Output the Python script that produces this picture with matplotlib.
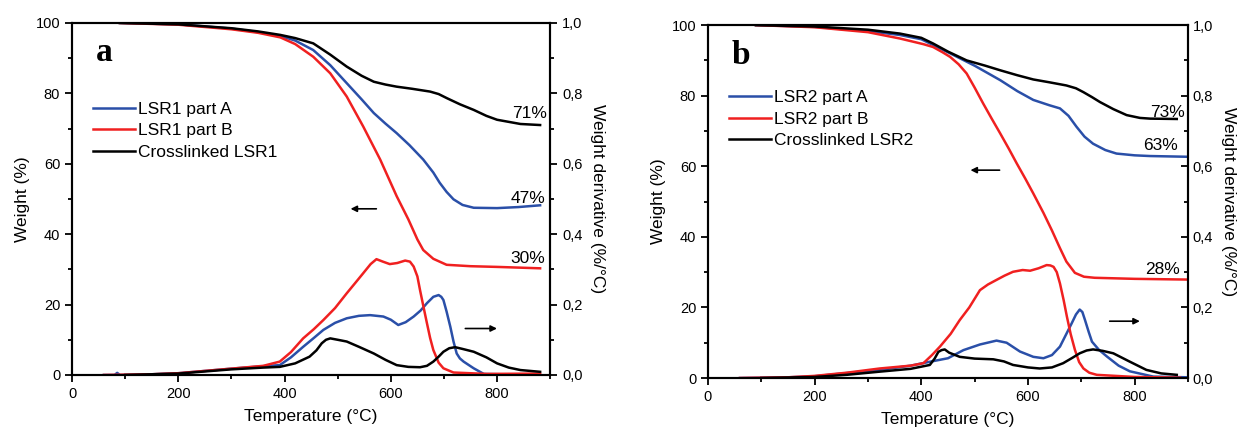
import matplotlib.pyplot as plt
from matplotlib.ticker import MultipleLocator, FuncFormatter

plt.rcParams['font.family'] = ['Liberation Sans', 'DejaVu Sans']

# ---- LSR1 (panel a) ----
# TGA weight curves (%)
a_red_T = [90, 200, 300, 350, 392, 420, 454, 486, 517, 548, 580, 611, 633, 650, 661,
           680, 705, 750, 800, 881]
a_red_w = [100, 99.5, 98.2, 97.2, 95.9, 94, 90.4, 85.7, 79.1, 70.6, 61.2, 50.8, 44.2,
           38.5, 35.5, 33, 31.3, 30.9, 30.7, 30.3]

a_blue_T = [90, 200, 300, 350, 392, 420, 454, 486, 517, 545, 568, 590, 611, 635, 661,
            680, 692, 705, 718, 735, 756, 800, 840, 881]
a_blue_w = [100, 99.6, 98.4, 97.4, 96.3, 95, 92.3, 88, 82.9, 78.3, 74.4, 71.4, 68.7,
            65.3, 61.2, 57.5, 54.6, 52, 49.9, 48.3, 47.5, 47.4, 47.7, 48.2]

a_black_T = [90, 200, 300, 350, 392, 420, 454, 486, 517, 545, 568, 590, 611, 640, 674,
             690, 706, 730, 756, 780, 800, 844, 881]
a_black_w = [100, 99.6, 98.5, 97.6, 96.6, 95.7, 94.2, 91, 87.6, 85, 83.3, 82.5, 81.9,
             81.3, 80.5, 79.8, 78.6, 76.9, 75.3, 73.6, 72.5, 71.3, 71]

# DTG derivative curves (%/°C)
a_red_dT = [60, 150, 200, 300, 360, 391, 412, 435, 455, 473, 495, 517, 535, 548, 562, 573,
            585, 598, 612, 627, 636, 643, 650, 655, 662, 668, 674, 680, 690, 699, 718,
            780, 881]
a_red_d = [0, 0.002, 0.005, 0.018, 0.026, 0.038, 0.065, 0.104, 0.13, 0.156, 0.19, 0.232,
           0.265, 0.289, 0.315, 0.329, 0.322, 0.315, 0.318, 0.325, 0.322, 0.308, 0.28,
           0.241, 0.19, 0.147, 0.105, 0.071, 0.035, 0.019, 0.007, 0.003, 0.004]

a_blue_dT = [60, 80, 85, 90, 150, 200, 300, 360, 391, 412, 435, 455, 473, 495, 517, 540,
             561, 586, 600, 614, 628, 643, 656, 668, 680, 690, 695, 699, 705, 712, 718,
             724, 730, 737, 756, 775, 881]
a_blue_d = [0, 0, 0.006, 0, 0.002, 0.005, 0.018, 0.025, 0.028, 0.05, 0.08, 0.105, 0.128,
            0.148, 0.161, 0.168, 0.17, 0.166, 0.157, 0.142, 0.15, 0.166, 0.183, 0.204,
            0.222, 0.227, 0.222, 0.213, 0.18, 0.137, 0.095, 0.061, 0.047, 0.038, 0.019,
            0.003, 0.0]

a_black_dT = [100, 200, 300, 360, 391, 420, 447, 460, 470, 478, 486, 500, 517, 540, 568,
              590, 611, 633, 655, 668, 680, 690, 699, 710, 721, 735, 756, 780, 800, 822,
              844, 881]
a_black_d = [0, 0.004, 0.016, 0.021, 0.023, 0.033, 0.052, 0.07, 0.09, 0.1, 0.104, 0.1,
             0.095, 0.08, 0.061, 0.043, 0.028, 0.023, 0.022, 0.026, 0.038, 0.052, 0.066,
             0.076, 0.079, 0.074, 0.066, 0.05, 0.033, 0.021, 0.014, 0.009]

# ---- LSR2 (panel b) ----
b_red_T = [90, 200, 300, 360, 404, 422, 440, 454, 470, 485, 500, 516, 532, 548, 564,
           579, 595, 610, 629, 645, 660, 672, 688, 705, 725, 800, 897]
b_red_w = [100, 99.4, 98, 96.2, 94.6, 93.8, 92.3, 91, 88.9, 86.3, 82.3, 77.8, 73.5, 69.3,
           65, 60.8, 56.5, 52.3, 46.8, 41.8, 36.8, 33, 29.8, 28.7, 28.4, 28.1, 27.9]

b_blue_T = [90, 200, 300, 360, 400, 454, 500, 548, 580, 610, 640, 660, 676, 691, 706,
            722, 745, 766, 800, 829, 897]
b_blue_w = [100, 99.5, 98.3, 97.2, 96, 92, 88.5, 84.4, 81.3, 78.8, 77.3, 76.4, 74.3,
            71.2, 68.4, 66.4, 64.6, 63.6, 63.1, 62.9, 62.7]

b_black_T = [90, 200, 300, 360, 400, 422, 450, 485, 520, 548, 580, 610, 640, 672, 690,
             704, 720, 735, 760, 785, 810, 829, 879]
b_black_w = [100, 99.6, 98.7, 97.6, 96.4, 94.8, 92.5, 90, 88.5, 87.2, 85.8, 84.6, 83.8,
             82.9, 82.1, 81, 79.6, 78.2, 76.2, 74.5, 73.7, 73.5, 73.4]

b_red_dT = [60, 150, 200, 260, 322, 380, 404, 420, 435, 455, 472, 490, 510, 525, 541, 556,
            572, 590, 604, 620, 635, 642, 648, 654, 660, 667, 673, 680, 688, 696, 704,
            715, 729, 800, 885]
b_red_d = [0, 0.002, 0.006, 0.015, 0.027, 0.035, 0.042, 0.065, 0.089, 0.125, 0.164, 0.2,
           0.249, 0.265, 0.278, 0.29, 0.301, 0.306, 0.304, 0.311, 0.32, 0.319, 0.315,
           0.3, 0.268, 0.22, 0.174, 0.125, 0.08, 0.045, 0.027, 0.015, 0.009, 0.003, 0.001]

b_blue_dT = [60, 150, 200, 260, 322, 380, 416, 450, 479, 510, 541, 560, 585, 610, 629,
             645, 660, 672, 682, 690, 697, 702, 707, 714, 720, 733, 748, 770, 791, 835, 900]
b_blue_d = [0, 0.002, 0.005, 0.014, 0.023, 0.035, 0.046, 0.056, 0.079, 0.095, 0.106,
            0.1, 0.075, 0.06, 0.056, 0.065, 0.089, 0.125, 0.155, 0.18, 0.194, 0.187, 0.164,
            0.13, 0.103, 0.08, 0.061, 0.035, 0.019, 0.004, 0.002]

b_black_dT = [100, 200, 260, 322, 380, 416, 425, 432, 438, 444, 452, 472, 500, 535, 555,
              572, 600, 622, 645, 666, 683, 697, 710, 722, 740, 760, 790, 822, 850, 879]
b_black_d = [0, 0.003, 0.009, 0.018, 0.026, 0.037, 0.055, 0.074, 0.079, 0.081, 0.072,
             0.06, 0.055, 0.053, 0.047, 0.037, 0.03, 0.027, 0.03, 0.042, 0.057, 0.07,
             0.078, 0.081, 0.077, 0.07, 0.047, 0.023, 0.013, 0.009]

BLUE = '#2a4fa8'
RED = '#f02020'
BLACK = '#000000'
LW = 1.8

fig = plt.figure(figsize=(12.42, 4.33), dpi=100)


def comma(v, pos):
    return f'{v:.1f}'.replace('.', ',')


def panel(rect, letter, tga, dtg, names, finals, final_pos, arrows, legend_y, right_out):
    ax = fig.add_axes(rect)
    ax2 = ax.twinx()
    for (T, w), c, n in zip(tga, [BLUE, RED, BLACK], names):
        ax.plot(T, w, color=c, lw=LW, label=n, solid_joinstyle='round')
    for (T, d), c in zip(dtg, [BLUE, RED, BLACK]):
        ax2.plot(T, d, color=c, lw=LW, solid_joinstyle='round')
    ax.set_xlim(0, 900)
    ax.set_ylim(0, 100)
    ax2.set_ylim(0, 1.0)
    ax.xaxis.set_major_locator(MultipleLocator(200))
    ax.xaxis.set_minor_locator(MultipleLocator(100))
    ax.yaxis.set_major_locator(MultipleLocator(20))
    ax.yaxis.set_minor_locator(MultipleLocator(10))
    ax2.yaxis.set_major_locator(MultipleLocator(0.2))
    ax2.yaxis.set_minor_locator(MultipleLocator(0.1))
    ax2.yaxis.set_major_formatter(FuncFormatter(comma))
    ax.tick_params(which='major', direction='out', length=5, width=1.3, labelsize=10.5)
    ax.tick_params(which='minor', direction='out', length=3, width=1.3)
    d = 'out' if right_out else 'in'
    ax2.tick_params(which='major', direction=d, length=5, width=1.3, labelsize=10.5)
    ax2.tick_params(which='minor', direction=d, length=3, width=1.3)
    for a in (ax, ax2):
        for s in a.spines.values():
            s.set_linewidth(1.5)
    ax.set_xlabel('Temperature (°C)', fontsize=12.5, labelpad=6)
    ax.set_ylabel('Weight (%)', fontsize=12.5, labelpad=4)
    ax2.set_ylabel('Weight derivative (%/°C)', fontsize=12.5, rotation=270, labelpad=16)
    ax.text(0.05, 0.915, letter, transform=ax.transAxes, fontsize=24, fontweight='bold',
            family='Liberation Serif', va='center', ha='left')
    for txt, (x, y) in zip(finals, final_pos):
        ax.text(x, y, txt, fontsize=12.5, ha='right', va='baseline')
    for x0, x1, y in arrows:
        ax.annotate('', xy=(x1, y), xytext=(x0, y),
                    arrowprops=dict(arrowstyle='-|>', color='black', lw=1.2,
                                    mutation_scale=9))
    ax.legend(loc='upper left', bbox_to_anchor=(0.03, legend_y), frameon=False,
              fontsize=12.5, handlelength=2.4, handletextpad=0.2, labelspacing=0.35,
              borderaxespad=0)
    return ax


panel([0.058, 0.134, 0.385, 0.813], 'a',
      [(a_blue_T, a_blue_w), (a_red_T, a_red_w), (a_black_T, a_black_w)],
      [(a_blue_dT, a_blue_d), (a_red_dT, a_red_d), (a_black_dT, a_black_d)],
      ['LSR1 part A', 'LSR1 part B', 'Crosslinked LSR1'],
      ['71%', '47%', '30%'], [(894, 73), (890, 48.9), (890, 31.8)],
      [(578, 519, 47.2), (735, 805, 13.2)], 0.795, True)

panel([0.570, 0.127, 0.3865, 0.815], 'b',
      [(b_blue_T, b_blue_w), (b_red_T, b_red_w), (b_black_T, b_black_w)],
      [(b_blue_dT, b_blue_d), (b_red_dT, b_red_d), (b_black_dT, b_black_d)],
      ['LSR2 part A', 'LSR2 part B', 'Crosslinked LSR2'],
      ['73%', '63%', '28%'], [(894, 73.9), (881, 64.6), (885, 29.5)],
      [(552, 487, 58.9), (748, 815, 16.1)], 0.835, False)

fig.savefig('out.png', dpi=100)
